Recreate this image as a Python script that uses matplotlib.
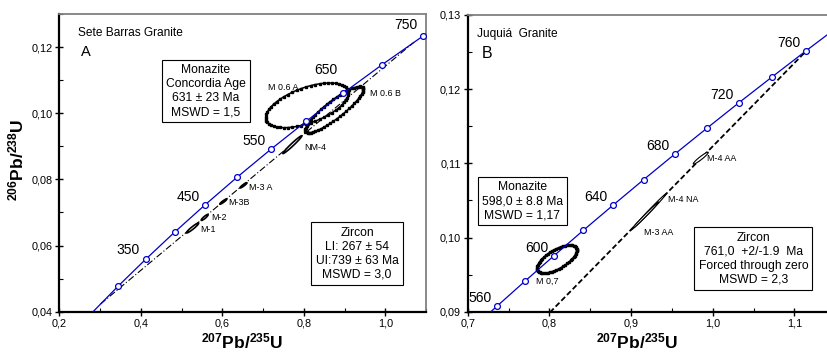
import numpy as np
import matplotlib
matplotlib.use("Agg")
import matplotlib.pyplot as plt
from matplotlib.ticker import MultipleLocator, FuncFormatter

plt.rcParams['font.family'] = ['Liberation Sans', 'DejaVu Sans']
plt.rcParams['mathtext.fontset'] = 'custom'
plt.rcParams['mathtext.rm'] = 'Liberation Sans'
plt.rcParams['mathtext.bf'] = 'Liberation Sans:bold'

# --- panel A : Sete Barras (concordia 250-800 Ma, markers 300-750 Ma)
conc_a_x = [0.2792, 0.3437, 0.4116, 0.4828, 0.5577, 0.6363, 0.7189, 0.8056, 0.8968, 0.9925, 1.0931, 1.1987]
conc_a_y = [0.03954, 0.04764, 0.05580, 0.06402, 0.07230, 0.08065, 0.08906, 0.09754, 0.10609, 0.11470, 0.12338, 0.13213]
mark_a_x = conc_a_x[1:11]
mark_a_y = conc_a_y[1:11]
lab_a = ["350", "450", "550", "650", "750"]
lab_a_x = [0.4116, 0.5577, 0.7189, 0.8968, 1.0931]
lab_a_y = [0.05580, 0.07230, 0.08906, 0.10609, 0.12338]
lab_a_dy = [9, 8, 8, 23, 11]

disc_a_x = [0.3008, 1.0705]
disc_a_y = [0.04229, 0.12147]

# ellipses: name, centre x, centre y, half width x, half height y, rho
ell_a = [
    ("M 0.6 A", 0.808, 0.1024, 0.1015, 0.00676, 0.55),
    ("M 0.6 B", 0.875, 0.1011, 0.071, 0.0070, 0.88),
    ("NM-4", 0.772, 0.0905, 0.0233, 0.00270, 0.98),
    ("M-3 A", 0.652, 0.0782, 0.0086, 0.00080, 0.93),
    ("M-3B", 0.6026, 0.0733, 0.0086, 0.00080, 0.93),
    ("M-2", 0.5568, 0.0685, 0.0085, 0.00090, 0.90),
    ("M-1", 0.527, 0.0653, 0.0150, 0.00150, 0.95),
]
ell_a_lab = [(0.712, 0.1078), (0.9615, 0.1061), (0.801, 0.0897), (0.665, 0.0776),
             (0.6148, 0.0731), (0.573, 0.0686), (0.547, 0.0649)]

# --- panel B : Juquia (concordia 540-780 Ma, markers 560-760 Ma)
conc_b_x = [0.7020, 0.7359, 0.7704, 0.8056, 0.8415, 0.8782, 0.9155, 0.9536, 0.9925, 1.0321, 1.0726, 1.1138, 1.1558]
conc_b_y = [0.08738, 0.09075, 0.09414, 0.09754, 0.10096, 0.10438, 0.10781, 0.11125, 0.11470, 0.11817, 0.12164, 0.12513, 0.12862]
mark_b_x = conc_b_x[1:12]
mark_b_y = conc_b_y[1:12]
lab_b = ["560", "600", "640", "680", "720", "760"]
lab_b_x = [0.7359, 0.8056, 0.8782, 0.9536, 1.0321, 1.1138]
lab_b_y = [0.09075, 0.09754, 0.10438, 0.11125, 0.11817, 0.12513]

disc_b_x = [0.0, 1.1159]
disc_b_y = [0.0, 0.12530]

ell_b = [
    ("M 0,7", 0.8093, 0.0971, 0.0243, 0.00189, 0.65),
    ("M-4 AA", 0.9854, 0.1107, 0.0092, 0.00080, 0.95),
    ("M-4 NA", 0.923, 0.1036, 0.020, 0.00230, 0.995),
    ("M-3 AA", 0.917, 0.1029, 0.017, 0.00190, 0.995),
]
ell_b_lab = [(0.7836, 0.0941), (0.9926, 0.1106), (0.9456, 0.1051), (0.9162, 0.10065)]

blue = '#0000c8'


def ellipse(cx, cy, ex, ey, r, n=56):
    t = np.linspace(0, 2 * np.pi, n)
    x = cx + ex * np.cos(t)
    y = cy + ey * (r * np.cos(t) + np.sqrt(1 - r * r) * np.sin(t))
    return x, y


def comma(v, nd):
    return f"{v:.{nd}f}".replace(".", ",")


def style(ax, xmaj, xmin, ymaj, ymin, xnd, ynd):
    ax.xaxis.set_major_locator(MultipleLocator(xmaj))
    ax.xaxis.set_minor_locator(MultipleLocator(xmin))
    ax.yaxis.set_major_locator(MultipleLocator(ymaj))
    ax.yaxis.set_minor_locator(MultipleLocator(ymin))
    ax.xaxis.set_major_formatter(FuncFormatter(lambda v, p: comma(v, xnd)))
    ax.yaxis.set_major_formatter(FuncFormatter(lambda v, p: comma(v, ynd)))
    ax.tick_params(which='major', direction='inout', length=6, width=1, labelsize=7.8, pad=2)
    ax.tick_params(which='minor', direction='in', length=3, width=0.8)
    ax.tick_params(top=False, right=False, which='both')
    for s in ('left', 'bottom'):
        ax.spines[s].set_linewidth(1.6)
        ax.spines[s].set_color('black')
    for s in ('top', 'right'):
        ax.spines[s].set_linewidth(1.3)
        ax.spines[s].set_color('#808080')


def draw_ell(ax, e, big, lw=0.9):
    x, y = ellipse(*e[1:])
    if big:
        ax.plot(x, y, '-', color='black', lw=1.1, zorder=3)
        ax.plot(x, y, 's', color='black', ms=1.7, zorder=3)
    else:
        ax.fill(x, y, facecolor='white', edgecolor='black', lw=lw, zorder=3)


fig = plt.figure(figsize=(8.27, 3.52), dpi=100)
W, H = 827.0, 352.0

# panel A
axA = fig.add_axes([59.3 / W, 40.3 / H, (426 - 59.3) / W, (311.7 - 14) / H])
axA.set_xlim(0.2, 1.1)
axA.set_ylim(0.04, 0.13)
style(axA, 0.2, 0.1, 0.02, 0.01, 1, 2)

axA.plot(disc_a_x, disc_a_y, color='black', lw=0.8, ls=(0, (6, 2, 1, 2)), zorder=2)
axA.plot(conc_a_x, conc_a_y, color=blue, lw=0.9, zorder=4)
axA.plot(mark_a_x, mark_a_y, 'o', ms=4.2, mfc='white', mec=blue, mew=0.9, zorder=5)
for t, x, y, dy in zip(lab_a, lab_a_x, lab_a_y, lab_a_dy):
    axA.annotate(t, (x, y), xytext=(-17, dy), textcoords='offset pixels',
                 ha='center', va='center', fontsize=10)
for i, e in enumerate(ell_a):
    draw_ell(axA, e, i < 2, lw=1.2)
    axA.text(ell_a_lab[i][0], ell_a_lab[i][1], e[0], fontsize=6.4, ha='left', va='center', zorder=6)

axA.text(0.052, 0.955, "Sete Barras Granite", transform=axA.transAxes, fontsize=8.6, va='top')
axA.text(0.06, 0.895, "A", transform=axA.transAxes, fontsize=10.5, va='top')
axA.text(0.40, 0.741, "Monazite\nConcordia Age\n631 \u00b1 23 Ma\nMSWD = 1,5",
         transform=axA.transAxes, ha='center', va='center', fontsize=8.7, linespacing=1.22,
         bbox=dict(boxstyle='square,pad=0.35', fc='white', ec='black', lw=0.8))
axA.text(0.812, 0.195, "Zircon\nLI: 267 \u00b1 54\nUI:739 \u00b1 63 Ma\nMSWD = 3,0",
         transform=axA.transAxes, ha='center', va='center', fontsize=8.7, linespacing=1.22,
         bbox=dict(boxstyle='square,pad=0.35', fc='white', ec='black', lw=0.8))

# panel B
axB = fig.add_axes([467.7 / W, 40.3 / H, (827 - 467.7) / W, (311.7 - 15) / H])
axB.set_xlim(0.7, 1.14)
axB.set_ylim(0.09, 0.13)
style(axB, 0.1, 0.05, 0.01, 0.005, 1, 2)
axB.spines['right'].set_visible(False)

axB.plot(disc_b_x, disc_b_y, color='black', lw=1.3, ls=(0, (3, 1.5)), zorder=2)
axB.plot(conc_b_x, conc_b_y, color=blue, lw=0.9, zorder=4)
axB.plot(mark_b_x, mark_b_y, 'o', ms=4.2, mfc='white', mec=blue, mew=0.9, zorder=5)
for t, x, y in zip(lab_b, lab_b_x, lab_b_y):
    axB.annotate(t, (x, y), xytext=(-17, 8), textcoords='offset pixels',
                 ha='center', va='center', fontsize=10)
for i, e in enumerate(ell_b):
    draw_ell(axB, e, i == 0, lw=0.8)
    axB.text(ell_b_lab[i][0], ell_b_lab[i][1], e[0], fontsize=6.4, ha='left', va='center', zorder=6)

axB.text(0.027, 0.955, "Juqui\u00e1  Granite", transform=axB.transAxes, fontsize=8.6, va='top')
axB.text(0.04, 0.895, "B", transform=axB.transAxes, fontsize=11.5, va='top')
axB.text(0.1525, 0.373, "Monazite\n598,0 \u00b1 8.8 Ma\nMSWD = 1,17",
         transform=axB.transAxes, ha='center', va='center', fontsize=8.7, linespacing=1.22,
         bbox=dict(boxstyle='square,pad=0.35', fc='white', ec='black', lw=0.8))
axB.text(0.795, 0.179, "Zircon\n761,0  +2/-1.9  Ma\nForced through zero\nMSWD = 2,3",
         transform=axB.transAxes, ha='center', va='center', fontsize=8.7, linespacing=1.22,
         bbox=dict(boxstyle='square,pad=0.35', fc='white', ec='black', lw=0.8))

# axis titles
xl = r'$\mathbf{^{207}Pb/^{235}U}$'
fig.text(242 / W, 1 - 341 / H, xl, ha='center', va='center', fontsize=12.5)
fig.text(637 / W, 1 - 341 / H, xl, ha='center', va='center', fontsize=12.5)
fig.text(16 / W, 1 - 160 / H, r'$\mathbf{^{206}Pb/^{238}U}$', ha='center', va='center',
         fontsize=12.5, rotation=90)

fig.savefig("out.png", dpi=100)
